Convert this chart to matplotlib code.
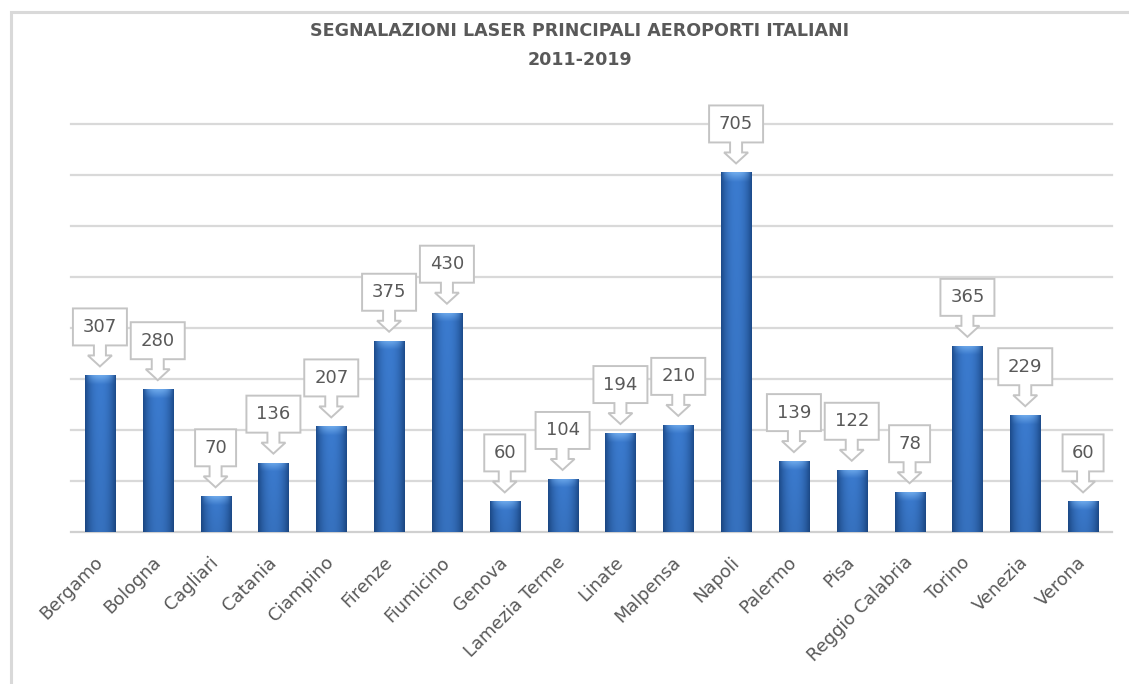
import numpy as np
import matplotlib
matplotlib.use("Agg")
import matplotlib.pyplot as plt
from matplotlib.patches import Polygon, Rectangle
from matplotlib.transforms import Affine2D, ScaledTranslation
from matplotlib.colors import to_rgb

# ---- data ----
airports = ["Bergamo", "Bologna", "Cagliari", "Catania", "Ciampino", "Firenze",
            "Fiumicino", "Genova", "Lamezia Terme", "Linate", "Malpensa", "Napoli",
            "Palermo", "Pisa", "Reggio Calabria", "Torino", "Venezia", "Verona"]
reports = [307, 280, 70, 136, 207, 375, 430, 60, 104, 194, 210, 705,
           139, 122, 78, 365, 229, 60]
title_lines = ["SEGNALAZIONI LASER PRINCIPALI AEROPORTI ITALIANI", "2011-2019"]

DPI = 100
W, H = 1129, 684
TEXT_GRAY = "#595959"
GRID_GRAY = "#d9d9d9"

fig = plt.figure(figsize=(W / DPI, H / DPI), dpi=DPI)
fig.patch.set_facecolor("white")

# chart frame
fig.patches.append(Rectangle((11 / W, -0.1), 1.2, 1.1 - 12 / H, transform=fig.transFigure,
                             fill=False, edgecolor=GRID_GRAY, linewidth=2.2, zorder=0))

ax = fig.add_axes([71 / W, 152 / H, 1041 / W, 408 / H])
ax.set_xlim(-0.5, len(airports) - 0.5)
ax.set_ylim(0, 800)
for s in ax.spines.values():
    s.set_visible(False)
ax.set_yticks(np.arange(100, 801, 100))
ax.set_yticklabels([])
ax.tick_params(axis="y", length=0)
ax.yaxis.grid(True, color=GRID_GRAY, linewidth=1.6)
for gl in ax.get_ygridlines():
    gl.set_clip_on(False)
ax.set_axisbelow(True)
ax.axhline(0, color="#d0d0d0", linewidth=1.6, zorder=1, clip_on=False)

x = np.arange(len(airports))
bar_w = 0.52
bars = ax.bar(x, reports, width=bar_w, color="#2f6bb8", linewidth=0, zorder=2)

# shaded cylinder-like fill for each bar
edge_c = np.array(to_rgb("#1d4c8c"))
mid_c = np.array(to_rgb("#3b7bcf"))
top_c = np.array(to_rgb("#74afee"))
ncol, nrow = 40, 200
u = np.linspace(-1, 1, ncol)
prof = np.clip(1 - np.abs(u) ** 2.2, 0, 1)
px_per_unit = 408 / 800
for b, v in zip(bars, reports):
    img = edge_c[None, None, :] + (mid_c - edge_c)[None, None, :] * prof[None, :, None]
    img = np.repeat(img, nrow, axis=0)
    hl_px = 9.0
    bar_px = v * px_per_unit
    rows_y = np.linspace(0, bar_px, nrow)  # pixels from the top of the bar
    t = np.clip(1 - rows_y / hl_px, 0, 1)[:, None, None]
    shape = (1 - np.abs(u) ** 2)[None, :, None]
    img = img + (top_c - img) * t * shape * 0.9
    d = np.linspace(0, 1, nrow)[:, None, None]
    img = img * (1 - 0.08 * d)
    x0 = b.get_x()
    im = ax.imshow(np.clip(img, 0, 1), extent=[x0, x0 + b.get_width(), 0, v],
                   aspect="auto", origin="upper", zorder=3, interpolation="bilinear")
    im.set_clip_path(b)
ax.set_xlim(-0.5, len(airports) - 0.5)
ax.set_ylim(0, 800)

# arrow callouts with the value above each bar (vertices in pixels)
scale = Affine2D().scale(DPI / 100.0)
for xi, v in zip(x, reports):
    label = str(v)
    bw = 15 + 13 * len(label)
    hw = bw / 2
    verts = [(0, 9), (12, 20), (6, 20), (6, 30), (hw, 30), (hw, 67), (-hw, 67),
             (-hw, 30), (-6, 30), (-6, 20), (-12, 20)]
    tr = scale + ScaledTranslation(xi, v, ax.transData)
    poly = Polygon(verts, closed=True, transform=tr, facecolor="white",
                   edgecolor="#c4c4c4", linewidth=1.4, zorder=5, clip_on=False)
    ax.add_patch(poly)
    ax.text(0, 48.5, label, transform=tr, ha="center", va="center",
            fontsize=13, color=TEXT_GRAY, zorder=6, clip_on=False)

ax.set_xticks(x)
ax.set_xticklabels(airports, rotation=45, ha="right", va="center",
                   rotation_mode="anchor", fontsize=12.8, color=TEXT_GRAY)
ax.tick_params(axis="x", length=0, pad=20)

fig.text(580 / W, 1 - 31 / H, title_lines[0], ha="center", va="center",
         fontsize=12.6, fontweight="bold", color=TEXT_GRAY)
fig.text(580 / W, 1 - 60 / H, title_lines[1], ha="center", va="center",
         fontsize=12.6, fontweight="bold", color=TEXT_GRAY)

fig.savefig("out.png", dpi=DPI, facecolor="white")
